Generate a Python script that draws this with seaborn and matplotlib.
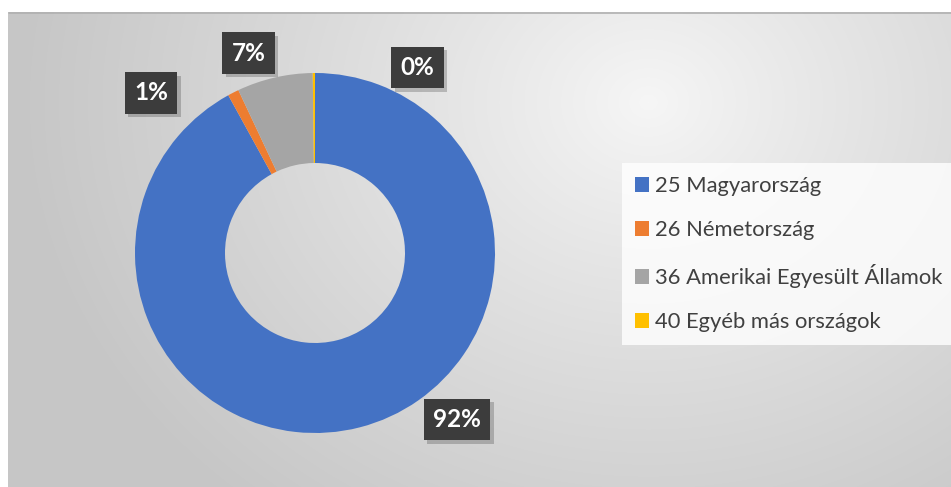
import numpy as np
import matplotlib
matplotlib.use("Agg")
import matplotlib.pyplot as plt
import matplotlib.patheffects as pe
import seaborn as sns
from matplotlib.patches import Patch

categories = ["25 Magyarország", "26 Németország", "36 Amerikai Egyesült Államok", "40 Egyéb más országok"]
values = [92.0, 1.0, 6.8, 0.2]
labels = ["92%", "1%", "7%", "0%"]
colors = ["#4472C4", "#ED7D31", "#A5A5A5", "#FFC000"]
# label anchor positions (in units of outer radius, relative to donut centre)
label_pos = [(0.79, -0.925), (-0.91, 0.89), (-0.37, 1.11), (0.57, 1.03)]

sns.set_theme(style="white")
plt.rcParams['font.family'] = ['Lato', 'DejaVu Sans']

W, H = 951, 487
fig = plt.figure(figsize=(W / 100, H / 100), dpi=100)
fig.patch.set_facecolor("white")

# background with radial gradient
bg = fig.add_axes([8 / W, 0, 1 - 8 / W, (H - 12) / H])
yy, xx = np.mgrid[0:H - 12, 0:W - 8]
cx, cy = 640, 90
d = np.sqrt(((xx - cx) / 620.0) ** 2 + ((yy - cy) / 520.0) ** 2)
d = np.clip(d, 0, 1)
val = 0.965 - 0.185 * d ** 0.9
img = np.dstack([val, val, val])
bg.imshow(img, aspect="auto", interpolation="bilinear")
bg.set_axis_off()
bg.plot([0, W - 9], [0, 0], color="#b0b0b0", lw=1.2)
bg.set_xlim(-0.5, W - 8.5)
bg.set_ylim(H - 12.5, -0.5)

# donut
R = 180
cxp, cyp = 315, 253
ax = fig.add_axes([(cxp - R) / W, (H - cyp - R) / H, 2 * R / W, 2 * R / H])
ax.set_axis_off()
wedges, _ = ax.pie(values, colors=colors, startangle=90, counterclock=False,
                   radius=1.0, wedgeprops=dict(width=0.5, linewidth=0),
                   frame=False)
ax.set_xlim(-1, 1)
ax.set_ylim(-1, 1)

for lab, (lx, ly) in zip(labels, label_pos):
    t = ax.text(lx, ly, lab, ha="center", va="center", fontsize=17.5,
                fontweight="bold", color="white",
                bbox=dict(boxstyle="square,pad=0.38", fc="#3c3c3c", ec="none", lw=0))
    t.get_bbox_patch().set_path_effects(
        [pe.SimplePatchShadow(offset=(2.5, -2.5), shadow_rgbFace="black", alpha=0.2),
         pe.Normal()])

# legend
handles = [Patch(facecolor=c, edgecolor="none") for c in colors]
leg = fig.legend(handles, categories, loc="upper left",
                 bbox_to_anchor=(622 / W, 1 - 163 / H), frameon=True,
                 fontsize=15.8, labelcolor="#404040", handlelength=0.65,
                 handleheight=0.65, handletextpad=0.25, labelspacing=1.09,
                 borderpad=0.6, borderaxespad=0, fancybox=False)
leg.get_frame().set_facecolor((1, 1, 1, 0.18))
leg.get_frame().set_edgecolor("none")

fig.savefig("out.png", dpi=100)
